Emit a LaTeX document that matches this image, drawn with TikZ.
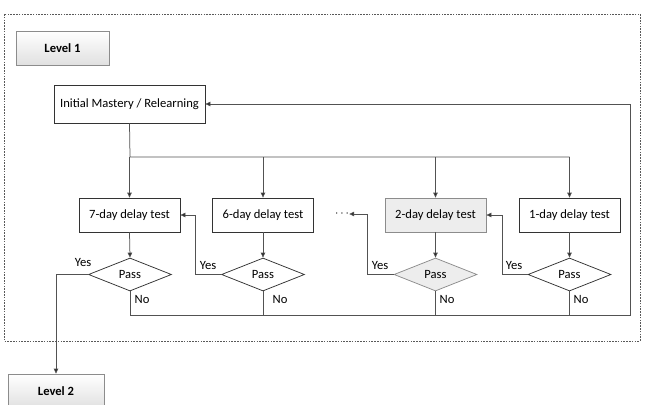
\documentclass[tikz,border=0pt]{standalone}
\usepackage{fontspec}
\setmainfont{Carlito}
\usetikzlibrary{shapes.geometric,arrows.meta}
\begin{document}
\begin{tikzpicture}[x=1pt,y=-1pt,
  every node/.style={font=\fontsize{12.6}{15}\selectfont},
  box/.style={draw=black!80,line width=0.75pt,fill=white,minimum width=101pt,minimum height=34pt,inner sep=0pt},
  greybox/.style={box,draw=black!45,fill=black!7},
  lvl/.style={draw=black!45,line width=0.7pt,top color=white,bottom color=black!12,minimum width=93pt,minimum height=34pt,inner sep=0pt,font=\fontsize{12.6}{15}\selectfont\bfseries},
  dec/.style={diamond,draw=black!80,line width=0.75pt,fill=white,minimum width=83pt,minimum height=33pt,inner sep=0pt,aspect=2.5},
  greydec/.style={dec,draw=black!45,fill=black!7},
  conn/.style={draw=black!68,line width=0.75pt},
  arr/.style={conn,-{Triangle[length=5pt,width=4.5pt,fill=black!85]}},
  lab/.style={inner sep=0pt}
]
\useasboundingbox (0,0) rectangle (650,404);
\draw[black!65,line width=0.6pt,dash pattern=on 1.6pt off 1.2pt] (4,14) rectangle (640,341);
\node[lvl] (lvl1) at (62.5,48) {Level 1};
\node[lvl,minimum width=96pt] (lvl2) at (56,391) {Level 2};
\node[box,minimum width=151pt,minimum height=38pt] (init) at (129.5,104) {Initial Mastery / Relearning};
\node[box] (t7) at (129.5,215) {7-day delay test};
\node[box] (t6) at (263,215) {6-day delay test};
\node[greybox] (t2) at (435.5,215) {2-day delay test};
\node[box] (t1) at (569.5,215) {1-day delay test};
\node[lab] (dots) at (342,214) {$\cdots$};
\node[dec] (d7) at (130,274.5) {Pass};
\node[dec] (d6) at (263,274.5) {Pass};
\node[greydec] (d2) at (435.5,274.5) {Pass};
\node[dec] (d1) at (569.5,274.5) {Pass};
\coordinate (bus) at (130,157);
\coordinate (cr) at (630,315);
% distribution
\draw[conn] (init.south) -- (bus) -- (t1.north |- bus);
\foreach \t in {t7,t6,t2,t1}{\draw[arr] (\t.north |- bus) -- (\t.north);}
\foreach \t/\d in {t7/d7,t6/d6,t2/d2,t1/d1}{\draw[arr] (\t.south) -- (\d.north);}
% yes branches
\draw[arr] (d6.west) -- ++(-26,0) |- (t7.east);
\draw[arr] (d2.west) -- ++(-26,0) |- (dots.east);
\draw[arr] (d1.west) -- ++(-25,0) |- (t2.east);
\draw[arr] (d7.west) -| (lvl2.north);
% no branches
\draw[arr] (d7.south) |- (cr) |- (init.east);
\foreach \d in {d6,d2,d1}{\draw[conn] (\d.south) -- (\d.south |- cr);}
% labels
\node[lab] at (83,262.5) {Yes};
\node[lab] at (208,265.5) {Yes};
\node[lab] at (380,265.5) {Yes};
\node[lab] at (514,265.5) {Yes};
\node[lab] at (142,299.5) {No};
\node[lab] at (280,299.5) {No};
\node[lab] at (447,299.5) {No};
\node[lab] at (581,299.5) {No};
\end{tikzpicture}
\end{document}
